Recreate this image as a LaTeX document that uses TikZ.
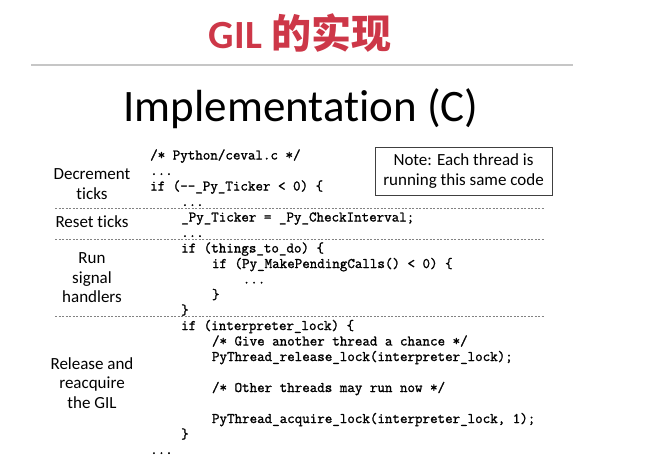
\documentclass[tikz,border=0pt]{standalone}
\usepackage{fontspec}
\setmainfont{Carlito}[Ligatures=NoCommon]
\setmonofont{Latin Modern Mono}[FakeBold=1.4]
\newfontfamily\cjk{Noto Sans CJK SC}
\usetikzlibrary{positioning}
\definecolor{titlered}{RGB}{205,55,72}
\definecolor{rulegray}{RGB}{198,198,198}
\definecolor{dashgray}{RGB}{130,130,130}

\begin{document}
\begin{tikzpicture}[x=1pt,y=-1pt]
\tikzstyle{stage}=[align=center,inner sep=0pt,font=\fontsize{17}{19.5}\selectfont]
\tikzstyle{codeline}=[anchor=base west,inner sep=0pt,font=\ttfamily\fontsize{14.6}{15.5}\selectfont]
\tikzstyle{divider}=[dashgray,line width=0.5pt,dash pattern=on 2pt off 1.5pt]

\useasboundingbox (0,0) rectangle (650,460);

% headings
\node[titlered,font=\fontsize{40}{42}\selectfont] (title) at (300,33) {\bfseries GIL {\cjk\bfseries 的实现}};
\coordinate (rulel) at (31,65);
\coordinate (ruler) at (573,65);
\draw[rulegray,line width=1.2pt] (rulel) -- (ruler);
\node[font=\fontsize{45}{47}\selectfont,anchor=base] (impl) at (301,121.5) {Implementation (C)};

% note
\node[stage,draw=black!75,line width=0.8pt,minimum width=177pt,minimum height=48pt] (note) at (463.5,171) {Note: Each thread is\\running this same code};

% stages
\node[stage] (dec)  at (92,184)   {Decrement\\ticks};
\node[stage] (rst)  at (92,222)   {Reset ticks};
\node[stage] (run)  at (92,278)   {Run\\signal\\handlers};
\node[stage] (gil)  at (92,383)   {Release and\\reacquire\\the GIL};

% code
\node[codeline] (c0)  at (150,159.5)   {/* Python/ceval.c */};
\node[codeline] (c1)  at (150,175)     {...};
\node[codeline] (c2)  at (150,190.5)   {if (--\_Py\_Ticker < 0) \{};
\node[codeline] (c3)  at (181,206)     {...};
\node[codeline] (c4)  at (181,221.5)   {\_Py\_Ticker = \_Py\_CheckInterval;};
\node[codeline] (c5)  at (181,237)     {...};
\node[codeline] (c6)  at (181,252.5)   {if (things\_to\_do) \{};
\node[codeline] (c7)  at (211.8,268)   {if (Py\_MakePendingCalls() < 0) \{};
\node[codeline] (c8)  at (242.6,283.5) {...};
\node[codeline] (c9)  at (211.8,299)   {\}};
\node[codeline] (c10) at (181,314.5)   {\}};
\node[codeline] (c11) at (181,330)     {if (interpreter\_lock) \{};
\node[codeline] (c12) at (211.8,345.5) {/* Give another thread a chance */};
\node[codeline] (c13) at (211.8,361)   {PyThread\_release\_lock(interpreter\_lock);};
\node[codeline] (c15) at (211.8,392)   {/* Other threads may run now */};
\node[codeline] (c17) at (211.8,423)   {PyThread\_acquire\_lock(interpreter\_lock, 1);};
\node[codeline] (c18) at (181,438.5)   {\}};
\node[codeline] (c19) at (150,454)     {...};

% dividers
\draw[divider] (55,208) -- (545,208);
\draw[divider] (55,239) -- (545,239);
\draw[divider] (55,316) -- (545,316);
\end{tikzpicture}
\end{document}
